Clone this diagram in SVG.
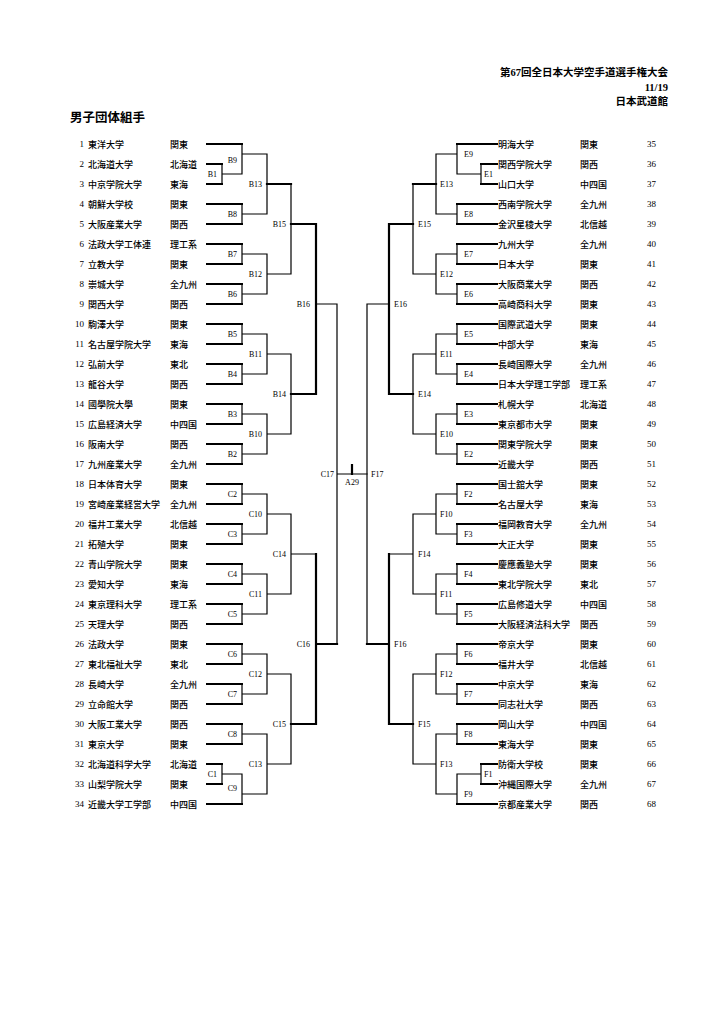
<svg xmlns="http://www.w3.org/2000/svg" width="724" height="1024" viewBox="0 0 724 1024">
<style>
.bg{fill:#fff}
.team{fill:none;stroke:#000;stroke-width:2;stroke-linecap:square}
.thin{fill:none;stroke:#000;stroke-width:1.2;stroke-linecap:square}
.thick{fill:none;stroke:#000;stroke-width:2.2;stroke-linecap:square}
text{dominant-baseline:central;fill:#000}
.nm,.rg{font-family:"Noto Sans CJK JP",sans-serif;font-size:9px;font-weight:500}
.n{font-family:"Liberation Serif","Noto Sans CJK JP",serif;font-size:9px;text-anchor:end}
.nr{font-family:"Liberation Serif","Noto Sans CJK JP",serif;font-size:9px}
.lb{font-family:"Liberation Serif",serif;font-size:8px}
.lbe{font-family:"Liberation Serif",serif;font-size:8px;text-anchor:end}
.hd{font-family:"Liberation Serif","Noto Sans CJK JP",serif;font-size:10.5px;font-weight:bold;text-anchor:end}
.tt{font-family:"Noto Sans CJK JP",sans-serif;font-size:12.5px;font-weight:bold}
</style>
<rect class="bg" x="0" y="0" width="724" height="1024"/>
<g id="header">
<text class="hd" x="668" y="72">第67回全日本大学空手道選手権大会</text>
<text class="hd" x="668" y="87">11/19</text>
<text class="hd" x="668" y="101">日本武道館</text>
<text class="tt" x="70" y="116">男子団体組手</text>
</g>
<g id="connectors">
<path class="team" d="M207 144H242 M207 164H222 M207 184H222 M207 204H242 M207 224H242 M207 244H242 M207 264H242 M207 284H242 M207 304H242 M207 324H242 M207 344H242 M207 364H242 M207 384H242 M207 404H242 M207 424H242 M207 444H242 M207 464H242 M207 484H242 M207 504H242 M207 524H242 M207 544H242 M207 564H242 M207 584H242 M207 604H242 M207 624H242 M207 644H242 M207 664H242 M207 684H242 M207 704H242 M207 724H242 M207 744H242 M207 764H222 M207 784H222 M207 804H242"/>
<path class="team" d="M457 144H497 M481 164H497 M481 184H497 M457 204H497 M457 224H497 M457 244H497 M457 264H497 M457 284H497 M457 304H497 M457 324H497 M457 344H497 M457 364H497 M457 384H497 M457 404H497 M457 424H497 M457 444H497 M457 464H497 M457 484H497 M457 504H497 M457 524H497 M457 544H497 M457 564H497 M457 584H497 M457 604H497 M457 624H497 M457 644H497 M457 664H497 M457 684H497 M457 704H497 M457 724H497 M457 744H497 M481 764H497 M481 784H497 M457 804H497"/>
<path class="thin" d="M222 164V184 M222 174H242 M222 764V784 M222 774H242
M242 144V174 M242 204V224 M242 244V264 M242 284V304 M242 324V344 M242 364V384 M242 404V424 M242 444V464 M242 484V504 M242 524V544 M242 564V584 M242 604V624 M242 644V664 M242 684V704 M242 724V744 M242 774V804
M242 154H267 M242 214H267 M242 254H267 M242 294H267 M242 334H267 M242 374H267 M242 414H267 M242 454H267 M242 494H267 M242 534H267 M242 574H267 M242 614H267 M242 654H267 M242 694H267 M242 734H267 M242 794H267
M267 154V214 M267 254V294 M267 334V374 M267 414V454 M267 494V534 M267 574V614 M267 654V694 M267 734V794
M267 274H291 M267 354H291 M267 434H291 M267 514H291 M267 594H291 M267 674H291 M267 764H291
M291 184V274 M291 354V434 M291 514V594 M291 674V764
M291 554H316 M316 304H337 M337 304V644 M337 474H367"/>
<path class="thick" d="M267 184H291 M291 224H316 M291 394H316 M291 724H316 M316 224V394 M316 554V724 M316 644H337 M352 465V474"/>
<path class="thin" d="M481 164V184 M481 174H457 M481 764V784 M481 774H457
M457 144V174 M457 204V224 M457 244V264 M457 284V304 M457 324V344 M457 364V384 M457 404V424 M457 444V464 M457 484V504 M457 524V544 M457 564V584 M457 604V624 M457 644V664 M457 684V704 M457 724V744 M457 774V804
M457 154H436 M457 214H436 M457 254H436 M457 294H436 M457 334H436 M457 374H436 M457 414H436 M457 454H436 M457 494H436 M457 534H436 M457 574H436 M457 614H436 M457 654H436 M457 694H436 M457 734H436 M457 794H436
M436 154V214 M436 254V294 M436 334V374 M436 414V454 M436 494V534 M436 574V614 M436 654V694 M436 734V794
M436 274H413 M436 354H413 M436 434H413 M436 514H413 M436 594H413 M436 674H413 M436 764H413
M413 184V274 M413 354V434 M413 514V594 M413 674V764
M413 554H389 M389 304H367 M367 304V644"/>
<path class="thick" d="M436 184H413 M413 224H389 M413 394H389 M413 724H389 M389 224V394 M389 554V724 M389 644H367"/>
</g>
<g id="match-labels">
<g id="m-B1"><text class="lbe" x="217" y="174">B1</text></g>
<g id="m-B9"><text class="lbe" x="237" y="160">B9</text></g>
<g id="m-B8"><text class="lbe" x="237" y="214">B8</text></g>
<g id="m-B7"><text class="lbe" x="237" y="254">B7</text></g>
<g id="m-B6"><text class="lbe" x="237" y="294">B6</text></g>
<g id="m-B5"><text class="lbe" x="237" y="334">B5</text></g>
<g id="m-B4"><text class="lbe" x="237" y="374">B4</text></g>
<g id="m-B3"><text class="lbe" x="237" y="414">B3</text></g>
<g id="m-B2"><text class="lbe" x="237" y="454">B2</text></g>
<g id="m-C2"><text class="lbe" x="237" y="494">C2</text></g>
<g id="m-C3"><text class="lbe" x="237" y="534">C3</text></g>
<g id="m-C4"><text class="lbe" x="237" y="574">C4</text></g>
<g id="m-C5"><text class="lbe" x="237" y="614">C5</text></g>
<g id="m-C6"><text class="lbe" x="237" y="654">C6</text></g>
<g id="m-C7"><text class="lbe" x="237" y="694">C7</text></g>
<g id="m-C8"><text class="lbe" x="237" y="734">C8</text></g>
<g id="m-C1"><text class="lbe" x="217" y="774">C1</text></g>
<g id="m-C9"><text class="lbe" x="237" y="788">C9</text></g>
<g id="m-B13"><text class="lbe" x="262" y="184">B13</text></g>
<g id="m-B12"><text class="lbe" x="262" y="274">B12</text></g>
<g id="m-B11"><text class="lbe" x="262" y="354">B11</text></g>
<g id="m-B10"><text class="lbe" x="262" y="434">B10</text></g>
<g id="m-C10"><text class="lbe" x="262" y="514">C10</text></g>
<g id="m-C11"><text class="lbe" x="262" y="594">C11</text></g>
<g id="m-C12"><text class="lbe" x="262" y="674">C12</text></g>
<g id="m-C13"><text class="lbe" x="262" y="764">C13</text></g>
<g id="m-B15"><text class="lbe" x="286" y="224">B15</text></g>
<g id="m-B14"><text class="lbe" x="286" y="394">B14</text></g>
<g id="m-C14"><text class="lbe" x="286" y="554">C14</text></g>
<g id="m-C15"><text class="lbe" x="286" y="724">C15</text></g>
<g id="m-B16"><text class="lbe" x="310" y="304">B16</text></g>
<g id="m-C16"><text class="lbe" x="310" y="644">C16</text></g>
<g id="m-C17"><text class="lbe" x="334" y="474">C17</text></g>
<g id="m-A29"><text class="lb" x="352" y="482" text-anchor="middle">A29</text></g>
<g id="m-F17"><text class="lb" x="371" y="474">F17</text></g>
<g id="m-E16"><text class="lb" x="394" y="304">E16</text></g>
<g id="m-F16"><text class="lb" x="394" y="644">F16</text></g>
<g id="m-E15"><text class="lb" x="418" y="224">E15</text></g>
<g id="m-E14"><text class="lb" x="418" y="394">E14</text></g>
<g id="m-F14"><text class="lb" x="418" y="554">F14</text></g>
<g id="m-F15"><text class="lb" x="418" y="724">F15</text></g>
<g id="m-E13"><text class="lb" x="440" y="184">E13</text></g>
<g id="m-E12"><text class="lb" x="440" y="274">E12</text></g>
<g id="m-E11"><text class="lb" x="440" y="354">E11</text></g>
<g id="m-E10"><text class="lb" x="440" y="434">E10</text></g>
<g id="m-F10"><text class="lb" x="440" y="514">F10</text></g>
<g id="m-F11"><text class="lb" x="440" y="594">F11</text></g>
<g id="m-F12"><text class="lb" x="440" y="674">F12</text></g>
<g id="m-F13"><text class="lb" x="440" y="764">F13</text></g>
<g id="m-E9"><text class="lb" x="464" y="154">E9</text></g>
<g id="m-E1"><text class="lb" x="484" y="174">E1</text></g>
<g id="m-E8"><text class="lb" x="464" y="214">E8</text></g>
<g id="m-E7"><text class="lb" x="464" y="254">E7</text></g>
<g id="m-E6"><text class="lb" x="464" y="294">E6</text></g>
<g id="m-E5"><text class="lb" x="464" y="334">E5</text></g>
<g id="m-E4"><text class="lb" x="464" y="374">E4</text></g>
<g id="m-E3"><text class="lb" x="464" y="414">E3</text></g>
<g id="m-E2"><text class="lb" x="464" y="454">E2</text></g>
<g id="m-F2"><text class="lb" x="464" y="494">F2</text></g>
<g id="m-F3"><text class="lb" x="464" y="534">F3</text></g>
<g id="m-F4"><text class="lb" x="464" y="574">F4</text></g>
<g id="m-F5"><text class="lb" x="464" y="614">F5</text></g>
<g id="m-F6"><text class="lb" x="464" y="654">F6</text></g>
<g id="m-F7"><text class="lb" x="464" y="694">F7</text></g>
<g id="m-F8"><text class="lb" x="464" y="734">F8</text></g>
<g id="m-F1"><text class="lb" x="484" y="774">F1</text></g>
<g id="m-F9"><text class="lb" x="464" y="794">F9</text></g>
</g>
<g id="teams-left">
<g id="team-1"><text class="n" x="84" y="144">1</text><text class="nm" x="88" y="144">東洋大学</text><text class="rg" x="170" y="144">関東</text></g>
<g id="team-2"><text class="n" x="84" y="164">2</text><text class="nm" x="88" y="164">北海道大学</text><text class="rg" x="170" y="164">北海道</text></g>
<g id="team-3"><text class="n" x="84" y="184">3</text><text class="nm" x="88" y="184">中京学院大学</text><text class="rg" x="170" y="184">東海</text></g>
<g id="team-4"><text class="n" x="84" y="204">4</text><text class="nm" x="88" y="204">朝鮮大学校</text><text class="rg" x="170" y="204">関東</text></g>
<g id="team-5"><text class="n" x="84" y="224">5</text><text class="nm" x="88" y="224">大阪産業大学</text><text class="rg" x="170" y="224">関西</text></g>
<g id="team-6"><text class="n" x="84" y="244">6</text><text class="nm" x="88" y="244">法政大学工体連</text><text class="rg" x="170" y="244">理工系</text></g>
<g id="team-7"><text class="n" x="84" y="264">7</text><text class="nm" x="88" y="264">立教大学</text><text class="rg" x="170" y="264">関東</text></g>
<g id="team-8"><text class="n" x="84" y="284">8</text><text class="nm" x="88" y="284">崇城大学</text><text class="rg" x="170" y="284">全九州</text></g>
<g id="team-9"><text class="n" x="84" y="304">9</text><text class="nm" x="88" y="304">関西大学</text><text class="rg" x="170" y="304">関西</text></g>
<g id="team-10"><text class="n" x="84" y="324">10</text><text class="nm" x="88" y="324">駒澤大学</text><text class="rg" x="170" y="324">関東</text></g>
<g id="team-11"><text class="n" x="84" y="344">11</text><text class="nm" x="88" y="344">名古屋学院大学</text><text class="rg" x="170" y="344">東海</text></g>
<g id="team-12"><text class="n" x="84" y="364">12</text><text class="nm" x="88" y="364">弘前大学</text><text class="rg" x="170" y="364">東北</text></g>
<g id="team-13"><text class="n" x="84" y="384">13</text><text class="nm" x="88" y="384">龍谷大学</text><text class="rg" x="170" y="384">関西</text></g>
<g id="team-14"><text class="n" x="84" y="404">14</text><text class="nm" x="88" y="404">國學院大學</text><text class="rg" x="170" y="404">関東</text></g>
<g id="team-15"><text class="n" x="84" y="424">15</text><text class="nm" x="88" y="424">広島経済大学</text><text class="rg" x="170" y="424">中四国</text></g>
<g id="team-16"><text class="n" x="84" y="444">16</text><text class="nm" x="88" y="444">阪南大学</text><text class="rg" x="170" y="444">関西</text></g>
<g id="team-17"><text class="n" x="84" y="464">17</text><text class="nm" x="88" y="464">九州産業大学</text><text class="rg" x="170" y="464">全九州</text></g>
<g id="team-18"><text class="n" x="84" y="484">18</text><text class="nm" x="88" y="484">日本体育大学</text><text class="rg" x="170" y="484">関東</text></g>
<g id="team-19"><text class="n" x="84" y="504">19</text><text class="nm" x="88" y="504">宮崎産業経営大学</text><text class="rg" x="170" y="504">全九州</text></g>
<g id="team-20"><text class="n" x="84" y="524">20</text><text class="nm" x="88" y="524">福井工業大学</text><text class="rg" x="170" y="524">北信越</text></g>
<g id="team-21"><text class="n" x="84" y="544">21</text><text class="nm" x="88" y="544">拓殖大学</text><text class="rg" x="170" y="544">関東</text></g>
<g id="team-22"><text class="n" x="84" y="564">22</text><text class="nm" x="88" y="564">青山学院大学</text><text class="rg" x="170" y="564">関東</text></g>
<g id="team-23"><text class="n" x="84" y="584">23</text><text class="nm" x="88" y="584">愛知大学</text><text class="rg" x="170" y="584">東海</text></g>
<g id="team-24"><text class="n" x="84" y="604">24</text><text class="nm" x="88" y="604">東京理科大学</text><text class="rg" x="170" y="604">理工系</text></g>
<g id="team-25"><text class="n" x="84" y="624">25</text><text class="nm" x="88" y="624">天理大学</text><text class="rg" x="170" y="624">関西</text></g>
<g id="team-26"><text class="n" x="84" y="644">26</text><text class="nm" x="88" y="644">法政大学</text><text class="rg" x="170" y="644">関東</text></g>
<g id="team-27"><text class="n" x="84" y="664">27</text><text class="nm" x="88" y="664">東北福祉大学</text><text class="rg" x="170" y="664">東北</text></g>
<g id="team-28"><text class="n" x="84" y="684">28</text><text class="nm" x="88" y="684">長崎大学</text><text class="rg" x="170" y="684">全九州</text></g>
<g id="team-29"><text class="n" x="84" y="704">29</text><text class="nm" x="88" y="704">立命館大学</text><text class="rg" x="170" y="704">関西</text></g>
<g id="team-30"><text class="n" x="84" y="724">30</text><text class="nm" x="88" y="724">大阪工業大学</text><text class="rg" x="170" y="724">関西</text></g>
<g id="team-31"><text class="n" x="84" y="744">31</text><text class="nm" x="88" y="744">東京大学</text><text class="rg" x="170" y="744">関東</text></g>
<g id="team-32"><text class="n" x="84" y="764">32</text><text class="nm" x="88" y="764">北海道科学大学</text><text class="rg" x="170" y="764">北海道</text></g>
<g id="team-33"><text class="n" x="84" y="784">33</text><text class="nm" x="88" y="784">山梨学院大学</text><text class="rg" x="170" y="784">関東</text></g>
<g id="team-34"><text class="n" x="84" y="804">34</text><text class="nm" x="88" y="804">近畿大学工学部</text><text class="rg" x="170" y="804">中四国</text></g>
</g>
<g id="teams-right">
<g id="team-35"><text class="nm" x="498" y="144">明海大学</text><text class="rg" x="580" y="144">関東</text><text class="nr" x="647" y="144">35</text></g>
<g id="team-36"><text class="nm" x="498" y="164">関西学院大学</text><text class="rg" x="580" y="164">関西</text><text class="nr" x="647" y="164">36</text></g>
<g id="team-37"><text class="nm" x="498" y="184">山口大学</text><text class="rg" x="580" y="184">中四国</text><text class="nr" x="647" y="184">37</text></g>
<g id="team-38"><text class="nm" x="498" y="204">西南学院大学</text><text class="rg" x="580" y="204">全九州</text><text class="nr" x="647" y="204">38</text></g>
<g id="team-39"><text class="nm" x="498" y="224">金沢星稜大学</text><text class="rg" x="580" y="224">北信越</text><text class="nr" x="647" y="224">39</text></g>
<g id="team-40"><text class="nm" x="498" y="244">九州大学</text><text class="rg" x="580" y="244">全九州</text><text class="nr" x="647" y="244">40</text></g>
<g id="team-41"><text class="nm" x="498" y="264">日本大学</text><text class="rg" x="580" y="264">関東</text><text class="nr" x="647" y="264">41</text></g>
<g id="team-42"><text class="nm" x="498" y="284">大阪商業大学</text><text class="rg" x="580" y="284">関西</text><text class="nr" x="647" y="284">42</text></g>
<g id="team-43"><text class="nm" x="498" y="304">高崎商科大学</text><text class="rg" x="580" y="304">関東</text><text class="nr" x="647" y="304">43</text></g>
<g id="team-44"><text class="nm" x="498" y="324">国際武道大学</text><text class="rg" x="580" y="324">関東</text><text class="nr" x="647" y="324">44</text></g>
<g id="team-45"><text class="nm" x="498" y="344">中部大学</text><text class="rg" x="580" y="344">東海</text><text class="nr" x="647" y="344">45</text></g>
<g id="team-46"><text class="nm" x="498" y="364">長崎国際大学</text><text class="rg" x="580" y="364">全九州</text><text class="nr" x="647" y="364">46</text></g>
<g id="team-47"><text class="nm" x="498" y="384">日本大学理工学部</text><text class="rg" x="580" y="384">理工系</text><text class="nr" x="647" y="384">47</text></g>
<g id="team-48"><text class="nm" x="498" y="404">札幌大学</text><text class="rg" x="580" y="404">北海道</text><text class="nr" x="647" y="404">48</text></g>
<g id="team-49"><text class="nm" x="498" y="424">東京都市大学</text><text class="rg" x="580" y="424">関東</text><text class="nr" x="647" y="424">49</text></g>
<g id="team-50"><text class="nm" x="498" y="444">関東学院大学</text><text class="rg" x="580" y="444">関東</text><text class="nr" x="647" y="444">50</text></g>
<g id="team-51"><text class="nm" x="498" y="464">近畿大学</text><text class="rg" x="580" y="464">関西</text><text class="nr" x="647" y="464">51</text></g>
<g id="team-52"><text class="nm" x="498" y="484">国士舘大学</text><text class="rg" x="580" y="484">関東</text><text class="nr" x="647" y="484">52</text></g>
<g id="team-53"><text class="nm" x="498" y="504">名古屋大学</text><text class="rg" x="580" y="504">東海</text><text class="nr" x="647" y="504">53</text></g>
<g id="team-54"><text class="nm" x="498" y="524">福岡教育大学</text><text class="rg" x="580" y="524">全九州</text><text class="nr" x="647" y="524">54</text></g>
<g id="team-55"><text class="nm" x="498" y="544">大正大学</text><text class="rg" x="580" y="544">関東</text><text class="nr" x="647" y="544">55</text></g>
<g id="team-56"><text class="nm" x="498" y="564">慶應義塾大学</text><text class="rg" x="580" y="564">関東</text><text class="nr" x="647" y="564">56</text></g>
<g id="team-57"><text class="nm" x="498" y="584">東北学院大学</text><text class="rg" x="580" y="584">東北</text><text class="nr" x="647" y="584">57</text></g>
<g id="team-58"><text class="nm" x="498" y="604">広島修道大学</text><text class="rg" x="580" y="604">中四国</text><text class="nr" x="647" y="604">58</text></g>
<g id="team-59"><text class="nm" x="498" y="624">大阪経済法科大学</text><text class="rg" x="580" y="624">関西</text><text class="nr" x="647" y="624">59</text></g>
<g id="team-60"><text class="nm" x="498" y="644">帝京大学</text><text class="rg" x="580" y="644">関東</text><text class="nr" x="647" y="644">60</text></g>
<g id="team-61"><text class="nm" x="498" y="664">福井大学</text><text class="rg" x="580" y="664">北信越</text><text class="nr" x="647" y="664">61</text></g>
<g id="team-62"><text class="nm" x="498" y="684">中京大学</text><text class="rg" x="580" y="684">東海</text><text class="nr" x="647" y="684">62</text></g>
<g id="team-63"><text class="nm" x="498" y="704">同志社大学</text><text class="rg" x="580" y="704">関西</text><text class="nr" x="647" y="704">63</text></g>
<g id="team-64"><text class="nm" x="498" y="724">岡山大学</text><text class="rg" x="580" y="724">中四国</text><text class="nr" x="647" y="724">64</text></g>
<g id="team-65"><text class="nm" x="498" y="744">東海大学</text><text class="rg" x="580" y="744">関東</text><text class="nr" x="647" y="744">65</text></g>
<g id="team-66"><text class="nm" x="498" y="764">防衛大学校</text><text class="rg" x="580" y="764">関東</text><text class="nr" x="647" y="764">66</text></g>
<g id="team-67"><text class="nm" x="498" y="784">沖縄国際大学</text><text class="rg" x="580" y="784">全九州</text><text class="nr" x="647" y="784">67</text></g>
<g id="team-68"><text class="nm" x="498" y="804">京都産業大学</text><text class="rg" x="580" y="804">関西</text><text class="nr" x="647" y="804">68</text></g>
</g>
</svg>
